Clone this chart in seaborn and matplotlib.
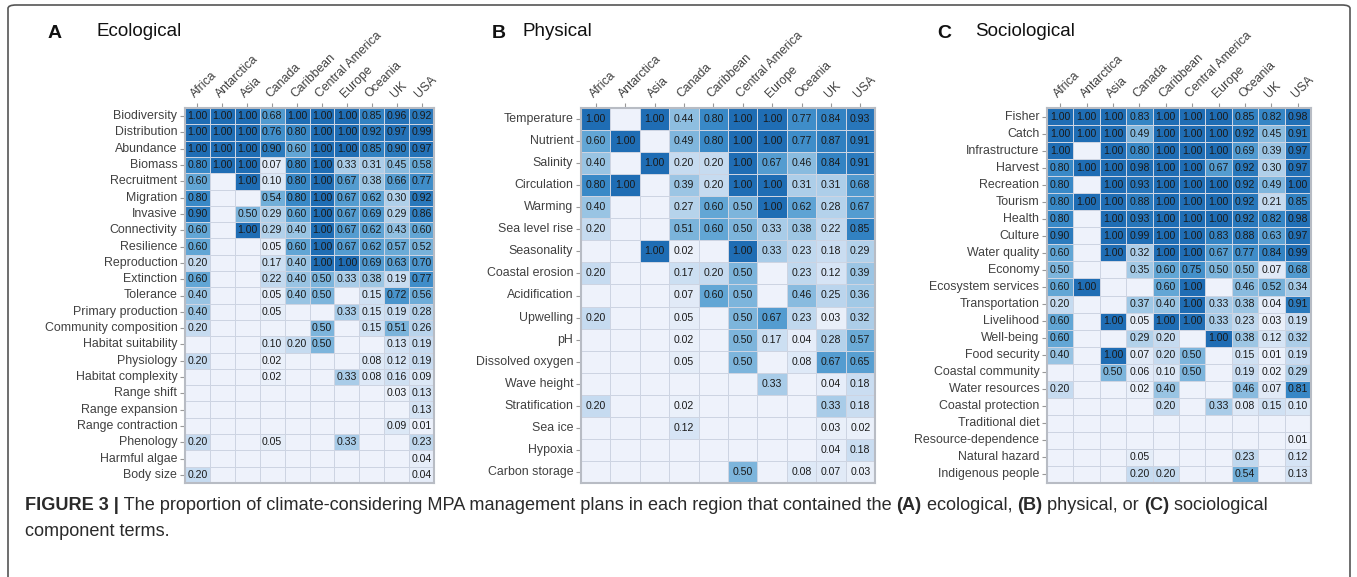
import numpy as np
import pandas as pd
import matplotlib
matplotlib.use("Agg")
import matplotlib.pyplot as plt
import seaborn as sns
from matplotlib.colors import LinearSegmentedColormap
from matplotlib.patches import FancyBboxPatch
from matplotlib import font_manager

N = None
regions = ["Africa", "Antarctica", "Asia", "Canada", "Caribbean",
           "Central America", "Europe", "Oceania", "UK", "USA"]

eco_terms = ["Biodiversity", "Distribution", "Abundance", "Biomass", "Recruitment",
             "Migration", "Invasive", "Connectivity", "Resilience", "Reproduction",
             "Extinction", "Tolerance", "Primary production", "Community composition",
             "Habitat suitability", "Physiology", "Habitat complexity", "Range shift",
             "Range expansion", "Range contraction", "Phenology", "Harmful algae",
             "Body size"]
eco_values = [
    [1.00, 1.00, 1.00, 0.68, 1.00, 1.00, 1.00, 0.85, 0.96, 0.92],
    [1.00, 1.00, 1.00, 0.76, 0.80, 1.00, 1.00, 0.92, 0.97, 0.99],
    [1.00, 1.00, 1.00, 0.90, 0.60, 1.00, 1.00, 0.85, 0.90, 0.97],
    [0.80, 1.00, 1.00, 0.07, 0.80, 1.00, 0.33, 0.31, 0.45, 0.58],
    [0.60, N, 1.00, 0.10, 0.80, 1.00, 0.67, 0.38, 0.66, 0.77],
    [0.80, N, N, 0.54, 0.80, 1.00, 0.67, 0.62, 0.30, 0.92],
    [0.90, N, 0.50, 0.29, 0.60, 1.00, 0.67, 0.69, 0.29, 0.86],
    [0.60, N, 1.00, 0.29, 0.40, 1.00, 0.67, 0.62, 0.43, 0.60],
    [0.60, N, N, 0.05, 0.60, 1.00, 0.67, 0.62, 0.57, 0.52],
    [0.20, N, N, 0.17, 0.40, 1.00, 1.00, 0.69, 0.63, 0.70],
    [0.60, N, N, 0.22, 0.40, 0.50, 0.33, 0.38, 0.19, 0.77],
    [0.40, N, N, 0.05, 0.40, 0.50, N, 0.15, 0.72, 0.56],
    [0.40, N, N, 0.05, N, N, 0.33, 0.15, 0.19, 0.28],
    [0.20, N, N, N, N, 0.50, N, 0.15, 0.51, 0.26],
    [N, N, N, 0.10, 0.20, 0.50, N, N, 0.13, 0.19],
    [0.20, N, N, 0.02, N, N, N, 0.08, 0.12, 0.19],
    [N, N, N, 0.02, N, N, 0.33, 0.08, 0.16, 0.09],
    [N, N, N, N, N, N, N, N, 0.03, 0.13],
    [N, N, N, N, N, N, N, N, N, 0.13],
    [N, N, N, N, N, N, N, N, 0.09, 0.01],
    [0.20, N, N, 0.05, N, N, 0.33, N, N, 0.23],
    [N, N, N, N, N, N, N, N, N, 0.04],
    [0.20, N, N, N, N, N, N, N, N, 0.04],
]

phy_terms = ["Temperature", "Nutrient", "Salinity", "Circulation", "Warming",
             "Sea level rise", "Seasonality", "Coastal erosion", "Acidification",
             "Upwelling", "pH", "Dissolved oxygen", "Wave height", "Stratification",
             "Sea ice", "Hypoxia", "Carbon storage"]
phy_values = [
    [1.00, N, 1.00, 0.44, 0.80, 1.00, 1.00, 0.77, 0.84, 0.93],
    [0.60, 1.00, N, 0.49, 0.80, 1.00, 1.00, 0.77, 0.87, 0.91],
    [0.40, N, 1.00, 0.20, 0.20, 1.00, 0.67, 0.46, 0.84, 0.91],
    [0.80, 1.00, N, 0.39, 0.20, 1.00, 1.00, 0.31, 0.31, 0.68],
    [0.40, N, N, 0.27, 0.60, 0.50, 1.00, 0.62, 0.28, 0.67],
    [0.20, N, N, 0.51, 0.60, 0.50, 0.33, 0.38, 0.22, 0.85],
    [N, N, 1.00, 0.02, N, 1.00, 0.33, 0.23, 0.18, 0.29],
    [0.20, N, N, 0.17, 0.20, 0.50, N, 0.23, 0.12, 0.39],
    [N, N, N, 0.07, 0.60, 0.50, N, 0.46, 0.25, 0.36],
    [0.20, N, N, 0.05, N, 0.50, 0.67, 0.23, 0.03, 0.32],
    [N, N, N, 0.02, N, 0.50, 0.17, 0.04, 0.28, 0.57],
    [N, N, N, 0.05, N, 0.50, N, 0.08, 0.67, 0.65],
    [N, N, N, N, N, N, 0.33, N, 0.04, 0.18],
    [0.20, N, N, 0.02, N, N, N, N, 0.33, 0.18],
    [N, N, N, 0.12, N, N, N, N, 0.03, 0.02],
    [N, N, N, N, N, N, N, N, 0.04, 0.18],
    [N, N, N, N, N, 0.50, N, 0.08, 0.07, 0.03],
]

soc_terms = ["Fisher", "Catch", "Infrastructure", "Harvest", "Recreation", "Tourism",
             "Health", "Culture", "Water quality", "Economy", "Ecosystem services",
             "Transportation", "Livelihood", "Well-being", "Food security",
             "Coastal community", "Water resources", "Coastal protection",
             "Traditional diet", "Resource-dependence", "Natural hazard",
             "Indigenous people"]
soc_values = [
    [1.00, 1.00, 1.00, 0.83, 1.00, 1.00, 1.00, 0.85, 0.82, 0.98],
    [1.00, 1.00, 1.00, 0.49, 1.00, 1.00, 1.00, 0.92, 0.45, 0.91],
    [1.00, N, 1.00, 0.80, 1.00, 1.00, 1.00, 0.69, 0.39, 0.97],
    [0.80, 1.00, 1.00, 0.98, 1.00, 1.00, 0.67, 0.92, 0.30, 0.97],
    [0.80, N, 1.00, 0.93, 1.00, 1.00, 1.00, 0.92, 0.49, 1.00],
    [0.80, 1.00, 1.00, 0.88, 1.00, 1.00, 1.00, 0.92, 0.21, 0.85],
    [0.80, N, 1.00, 0.93, 1.00, 1.00, 1.00, 0.92, 0.82, 0.98],
    [0.90, N, 1.00, 0.99, 1.00, 1.00, 0.83, 0.88, 0.63, 0.97],
    [0.60, N, 1.00, 0.32, 1.00, 1.00, 0.67, 0.77, 0.84, 0.99],
    [0.50, N, N, 0.35, 0.60, 0.75, 0.50, 0.50, 0.07, 0.68],
    [0.60, 1.00, N, N, 0.60, 1.00, N, 0.46, 0.52, 0.34],
    [0.20, N, N, 0.37, 0.40, 1.00, 0.33, 0.38, 0.04, 0.91],
    [0.60, N, 1.00, 0.05, 1.00, 1.00, 0.33, 0.23, 0.03, 0.19],
    [0.60, N, N, 0.29, 0.20, N, 1.00, 0.38, 0.12, 0.32],
    [0.40, N, 1.00, 0.07, 0.20, 0.50, N, 0.15, 0.01, 0.19],
    [N, N, 0.50, 0.06, 0.10, 0.50, N, 0.19, 0.02, 0.29],
    [0.20, N, N, 0.02, 0.40, N, N, 0.46, 0.07, 0.81],
    [N, N, N, N, 0.20, N, 0.33, 0.08, 0.15, 0.10],
    [N, N, N, N, N, N, N, N, N, N],
    [N, N, N, N, N, N, N, N, N, 0.01],
    [N, N, N, 0.05, N, N, N, 0.23, N, 0.12],
    [N, N, N, 0.20, 0.20, N, N, 0.54, N, 0.13],
]

panel_letters = ["A", "B", "C"]
panel_titles = ["Ecological", "Physical", "Sociological"]

# ---------------- styling ----------------
sns.set_theme(style="white")
names = {f.name for f in font_manager.fontManager.ttflist}
base_font = "Liberation Sans" if "Liberation Sans" in names else "DejaVu Sans"
narrow_font = "Liberation Sans Narrow" if "Liberation Sans Narrow" in names else base_font
plt.rcParams["font.family"] = [base_font, "DejaVu Sans"]

cmap = LinearSegmentedColormap.from_list(
    "mpa", [(0.0, "#eef2fb"), (0.2, "#c6dbf0"), (0.4, "#99c4e3"),
            (0.6, "#62a6d5"), (0.8, "#3989c7"), (1.0, "#1f6db4")])

W, H = 1357, 577
fig = plt.figure(figsize=(W / 100, H / 100), dpi=100)
fig.patch.set_facecolor("white")

# axes boxes in pixel coordinates: (left, right, top, bottom)
boxes = [(185, 434, 108, 483), (581, 875, 108, 483), (1047, 1311, 108, 483)]
letter_x = [48, 492, 937]
title_x = [97, 523, 975]

datasets = [(eco_terms, eco_values), (phy_terms, phy_values), (soc_terms, soc_values)]
for i, ((terms, vals), (l, r, t, b)) in enumerate(zip(datasets, boxes)):
    ax = fig.add_axes([l / W, 1 - b / H, (r - l) / W, (b - t) / H])
    df = pd.DataFrame(np.array(vals, dtype=float), index=terms, columns=regions)
    annot = df.map(lambda v: "" if pd.isna(v) else f"{v:.2f}")
    sns.heatmap(df.fillna(0.0), ax=ax, cmap=cmap, vmin=0, vmax=1, cbar=False,
                annot=annot.values, fmt="", linewidths=0.45, linecolor="#cdd4e2",
                annot_kws={"size": 7.6, "color": "#1a1a1a"})
    ax.xaxis.tick_top()
    ax.set_xticklabels(regions, rotation=45, ha="left", va="bottom",
                       rotation_mode="anchor", fontsize=8.8, color="#404040")
    ax.set_yticklabels(terms, rotation=0, fontsize=8.9, color="#404040")
    ax.tick_params(axis="both", length=3.5, width=0.8, color="#999999", pad=2,
                   left=True, top=True, bottom=False)
    ax.set_xlabel("")
    ax.set_ylabel("")
    for sp in ax.spines.values():
        sp.set_visible(True)
        sp.set_color("#b8bcc4")
        sp.set_linewidth(1.5)
    fig.text(letter_x[i] / W, 1 - 34 / H, panel_letters[i], fontsize=14,
             fontweight="bold", color="#111111", va="center", ha="left")
    fig.text(title_x[i] / W, 1 - 32 / H, panel_titles[i], fontsize=13.5,
             color="#111111", va="center", ha="left")

# outer frame
frame = FancyBboxPatch((8 / W, -0.05), (1350 - 8) / W, (1 - 5 / H) + 0.05,
                       boxstyle="round,pad=0,rounding_size=0.006",
                       transform=fig.transFigure, fill=False,
                       ec="#555555", lw=1.2)
fig.patches.append(frame)

# caption with bold segments
fig.canvas.draw()
renderer = fig.canvas.get_renderer()
caption_lines = [
    [("FIGURE 3 |", True), (" The proportion of climate-considering MPA management plans in each region that contained the ", False),
     ("(A)", True), (" ecological, ", False), ("(B)", True), (" physical, or ", False),
     ("(C)", True), (" sociological", False)],
    [("component terms.", False)],
]
cap_y = [506, 531]
for segs, yy in zip(caption_lines, cap_y):
    x = 25
    for txt, bold in segs:
        tt = fig.text(x / W, 1 - yy / H, txt, fontsize=13.1, family=narrow_font,
                      fontweight="bold" if bold else "normal", color="#2a2a2a",
                      va="center", ha="left")
        bb = tt.get_window_extent(renderer=renderer)
        x += bb.width

fig.savefig("out.png", dpi=100)
